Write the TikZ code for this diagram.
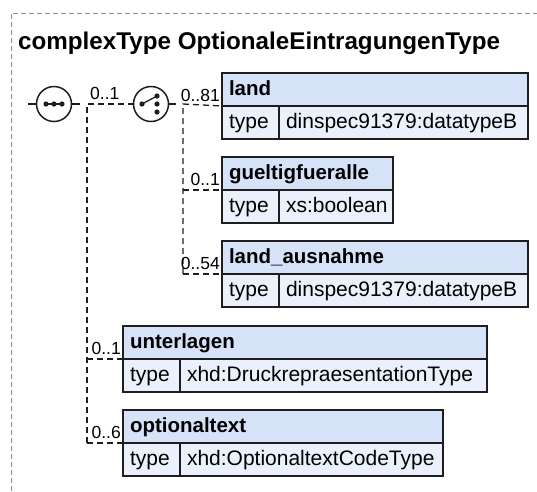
\documentclass[tikz,border=0pt]{standalone}
\usepackage{fontspec}
\setmainfont{Liberation Sans}
\usepackage{tikz}
\usetikzlibrary{positioning,calc}
\definecolor{HeadFill}{HTML}{D6E2F8}
\definecolor{TypeFill}{HTML}{EBF1FC}
\definecolor{FrameGray}{HTML}{8C8C8C}
\definecolor{EdgeDark}{HTML}{1E1E1E}
\newcommand{\elembox}[5]{%
  \pgfmathsetmacro{\headw}{#3-14}\pgfmathsetmacro{\valw}{#3-57-14}%
  \node[headcell,text width=\headw pt,anchor=north west] (#1) at #2 {#4};
  \node[typecell,text width=43pt,anchor=north west] (#1k) at (#1.south west) {type};
  \node[typecell,text width=\valw pt,anchor=north west] (#1v) at (#1k.north east) {#5};
}

\begin{document}
\begin{tikzpicture}[x=1pt,y=-1pt,
  headcell/.style={draw=EdgeDark,line width=1.4pt,fill=HeadFill,outer sep=0pt,align=left,
    minimum height=31,inner sep=7,text height=15pt,text depth=4pt,
    font=\fontsize{20.5}{24}\selectfont\bfseries},
  typecell/.style={draw=EdgeDark,line width=1.4pt,fill=TypeFill,outer sep=0pt,align=left,
    minimum height=31,inner sep=7,text height=15pt,text depth=4pt,
    font=\fontsize{21}{24}\selectfont},
  mult/.style={font=\fontsize{17.5}{20}\selectfont,inner sep=0pt},
  link/.style={EdgeDark,line width=1.3pt,dash pattern=on 6pt off 4pt},
  stub/.style={EdgeDark,line width=1.3pt},
  grp/.style={circle,draw=EdgeDark,line width=1.5pt,fill=white,minimum size=35,inner sep=0pt}]
  \useasboundingbox (0,0) rectangle (537,491);
  \draw[FrameGray,line width=0.8pt,dash pattern=on 5pt off 3pt] (11,491) -- (11,13) -- (537,13);
  \node[anchor=base west,inner sep=0pt,font=\fontsize{24.2}{28}\selectfont\bfseries] (title) at (18,49)
    {complexType OptionaleEintragungenType};

  % sequence and choice
  \node[grp] (seq) at (54,104) {};
  \node[grp] (cho) at (151,104) {};
  \coordinate (seqin) at (28,104);
  \coordinate (seqout) at (80,104);
  \coordinate (seqfork) at (87,104);
  \coordinate (choout) at (176,104);
  \coordinate (chofork) at (183,104);
  \draw[stub] (seqin) -- (seq.west);
  \draw[stub] (seq.east) -- (seqout);
  \draw[stub] (cho.east) -- (choout);
  \draw[stub] ($(seq.center)+(-9,0)$) -- ($(seq.center)+(9,0)$);
  \foreach \dx in {-8,0,8} \fill[EdgeDark] ($(seq.center)+(\dx,0)$) circle (2.6);
  \draw[stub] ($(cho.center)+(-9,0)$) -- ($(cho.center)+(6,-8)$);
  \fill[EdgeDark] ($(cho.center)+(-9,0)$) circle (2.6);
  \foreach \dy in {-8,0,8} \fill[EdgeDark] ($(cho.center)+(6,\dy)$) circle (2.6);

  % elements
  \elembox{land}{(222,73)}{306}{land}{dinspec91379:datatypeB}
  \elembox{gueltig}{(222,157)}{171}{gueltigfueralle}{xs:boolean}
  \elembox{ausn}{(222,241)}{306}{land\_ausnahme}{dinspec91379:datatypeB}
  \elembox{unter}{(123,326)}{364}{unterlagen}{xhd:DruckrepraesentationType}
  \elembox{opt}{(123,410)}{320}{optionaltext}{xhd:OptionaltextCodeType}

  % connectors
  \draw[link] (seqfork |- opt.south west) -- (seqfork) -- (cho.west);
  \draw[link] (seqfork |- unter.south west) -- (unter.south west);
  \draw[link] (seqfork |- opt.south west) -- (opt.south west);
  \draw[link] (chofork |- ausn.south west) -- (chofork) -- (land.south west);
  \draw[link] (chofork |- gueltig.south west) -- (gueltig.south west);
  \draw[link] (chofork |- ausn.south west) -- (ausn.south west);

  % multiplicities
  \node[mult,anchor=base west] (seqm) at ($(seqfork)+(3,-5)$) {0..1};
  \node[mult,anchor=base east] (landm) at ($(land.south west)+(-2,-5)$) {0..81};
  \node[mult,anchor=base east] (gueltigm) at ($(gueltig.south west)+(-2,-5)$) {0..1};
  \node[mult,anchor=base east] (ausnm) at ($(ausn.south west)+(-2,-5)$) {0..54};
  \node[mult,anchor=base east] (unterm) at ($(unter.south west)+(-2,-5)$) {0..1};
  \node[mult,anchor=base east] (optm) at ($(opt.south west)+(-2,-5)$) {0..6};
\end{tikzpicture}
\end{document}
